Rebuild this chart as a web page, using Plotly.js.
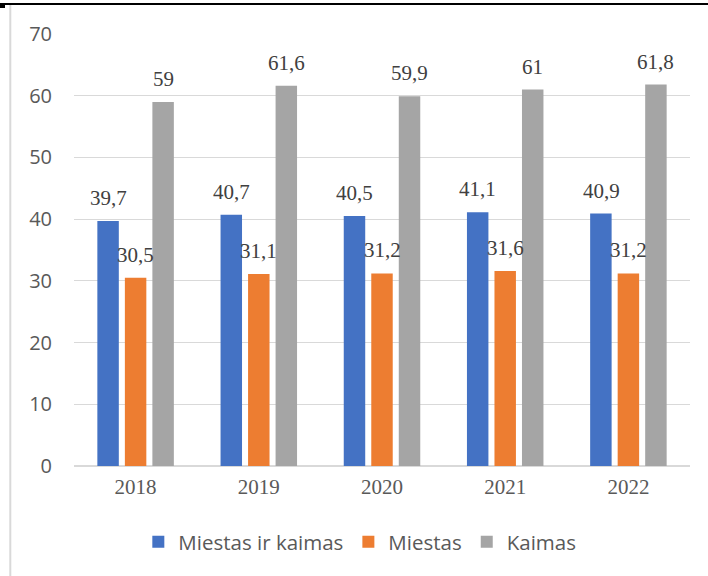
<!DOCTYPE html>
<html>
<head>
<meta charset="utf-8">
<script src="https://cdn.plot.ly/plotly-3.0.1.min.js"></script>
<style>
  html, body { margin: 0; padding: 0; background: #fff; }
  #chart { width: 708px; height: 576px; }
</style>
</head>
<body>
<div id="chart"></div>
<script>
const years = ['2018', '2019', '2020', '2021', '2022'];
const seriesNames = ['Miestas ir kaimas', 'Miestas', 'Kaimas'];
const miestasIrKaimas = [39.7, 40.7, 40.5, 41.1, 40.9];
const miestas = [30.5, 31.1, 31.2, 31.6, 31.2];
const kaimas = [59, 61.6, 59.9, 61, 61.8];
const yTicks = [0, 10, 20, 30, 40, 50, 60, 70];

const seriesValues = [miestasIrKaimas, miestas, kaimas];
const colors = ['#4472c4', '#ed7d31', '#a5a5a5'];
const slotShift = [-27.4, 0, 27.4];

const fmt = v => String(v).replace('.', ',');

const traces = seriesValues.map((vals, i) => ({
  type: 'bar',
  name: seriesNames[i],
  x: years,
  y: vals,
  marker: { color: colors[i], line: { width: 0 } },
  hoverinfo: 'none'
}));

const annotations = [];
seriesValues.forEach((vals, i) => {
  vals.forEach((v, j) => {
    annotations.push({
      x: j, y: v, xref: 'x', yref: 'y',
      text: fmt(v), showarrow: false,
      xanchor: 'center', yanchor: 'middle',
      xshift: slotShift[i], yshift: 23,
      font: { family: 'Liberation Serif, Times New Roman, serif', size: 21, color: '#404040' }
    });
  });
});

// paper coords helpers: plot spans x 74..690 px, y 34..466 px
const px = p => (p - 74) / 616;
const py = p => (466 - p) / 432;

const shapes = [
  { type: 'line', xref: 'paper', yref: 'paper', x0: px(0), x1: px(708), y0: py(4), y1: py(4),
    line: { color: '#000000', width: 2 } },
  { type: 'line', xref: 'paper', yref: 'paper', x0: px(10.3), x1: px(10.3), y0: py(5), y1: py(580),
    line: { color: '#d9d9d9', width: 2 } },
  { type: 'rect', xref: 'paper', yref: 'paper', x0: px(0), x1: px(5), y0: py(3), y1: py(8),
    fillcolor: '#000000', line: { width: 0 } }
];

const layout = {
  width: 708, height: 576,
  margin: { l: 74, r: 18, t: 34, b: 110, pad: 0 },
  paper_bgcolor: '#ffffff', plot_bgcolor: '#ffffff',
  barmode: 'group', bargap: 0.33, bargroupgap: 0.22,
  showlegend: true,
  legend: {
    orientation: 'h', x: 0.464, xanchor: 'center', y: -0.176, yanchor: 'middle',
    font: { family: 'Open Sans, sans-serif', size: 20.5, color: '#595959' },
    itemwidth: 30, traceorder: 'normal'
  },
  xaxis: {
    type: 'category', range: [-0.5, years.length - 0.5], autorange: false,
    showgrid: false, showline: false, zeroline: false,
    ticks: '', ticklabelstandoff: 6,
    tickfont: { family: 'Liberation Serif, Times New Roman, serif', size: 21, color: '#595959' }
  },
  yaxis: {
    range: [0, 70], autorange: false, tickvals: yTicks, ticktext: yTicks.map(String),
    showgrid: true, gridcolor: '#d9d9d9', gridwidth: 1,
    zeroline: true, zerolinecolor: '#d9d9d9', zerolinewidth: 2,
    showline: false, ticks: '', ticklabelstandoff: 21,
    tickfont: { family: 'Open Sans, sans-serif', size: 20, color: '#595959' }
  },
  annotations: annotations,
  shapes: shapes
};

Plotly.newPlot('chart', traces, layout, { displayModeBar: false, staticPlot: true });
</script>
</body>
</html>
